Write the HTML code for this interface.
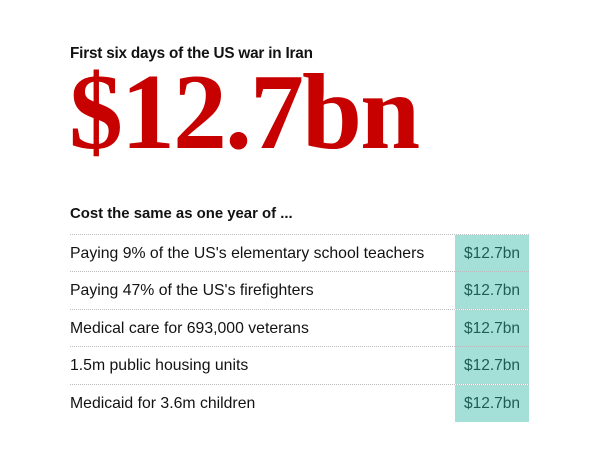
<!DOCTYPE html>
<html><head><style>
body{margin:0;width:604px;height:449px;background:#fff;font-family:"Liberation Sans",sans-serif;position:relative;overflow:hidden}
.t{position:absolute;left:70px;top:45px;font-weight:bold;font-size:15.3px;color:#121212;letter-spacing:-0.2px}
.big{position:absolute;left:69px;top:53px;font-family:"Liberation Serif",serif;font-weight:bold;font-size:108px;color:#c70000;letter-spacing:-2px;line-height:120px}
.s{position:absolute;left:70px;top:206px;font-weight:bold;font-size:14.9px;color:#121212}
.row{position:absolute;left:70px;width:459px;height:37px;border-top:1px dotted #bbb;font-size:15.8px;color:#121212}
.row span{position:absolute;left:0;top:10px}
.row b{position:absolute;right:0;top:0;width:74px;height:37px;background:#a4e0d7;font-weight:normal;color:#1e5d55;text-align:center;line-height:38px;font-size:15.5px}
</style></head><body>
<div class="t">First six days of the US war in Iran</div>
<div class="big">$12.7bn</div>
<div class="s">Cost the same as one year of ...</div>
<div class="row" style="top:234px"><span>Paying 9% of the US's elementary school teachers</span><b>$12.7bn</b></div>
<div class="row" style="top:271px"><span>Paying 47% of the US's firefighters</span><b>$12.7bn</b></div>
<div class="row" style="top:309px"><span>Medical care for 693,000 veterans</span><b>$12.7bn</b></div>
<div class="row" style="top:346px"><span>1.5m public housing units</span><b>$12.7bn</b></div>
<div class="row" style="top:384px"><span>Medicaid for 3.6m children</span><b>$12.7bn</b></div>
</body></html>
